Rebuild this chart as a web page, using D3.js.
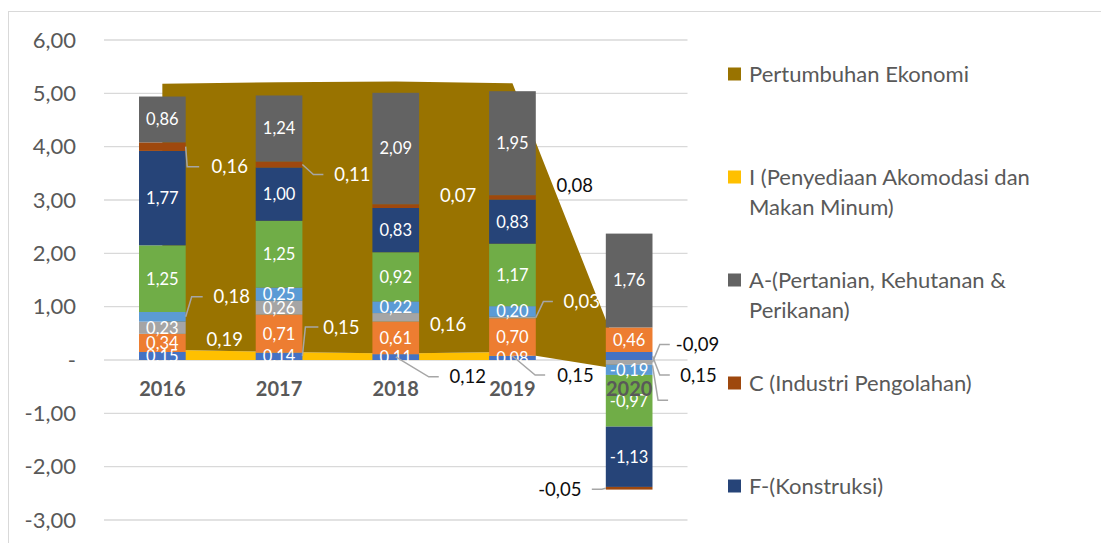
<!DOCTYPE html>
<html lang="id">
<head>
<meta charset="UTF-8">
<title>Kontribusi Sektor terhadap Pertumbuhan Ekonomi</title>
<script src="https://d3js.org/d3.v7.min.js"></script>
<style>
  body { margin: 0; background: #fff; }
  svg { display: block; font-family: Lato, "Open Sans", sans-serif; }
</style>
</head>
<body>
<svg id="chart" width="1101" height="543"></svg>
<script>
  // --- data ---
  const years = ["2016", "2017", "2018", "2019", "2020"];

  // area series (stacked: I first, Pertumbuhan Ekonomi on top of it)
  const sektorI  = [0.19, 0.15, 0.12, 0.15, -0.20];
  const ekonomi  = [4.99, 5.06, 5.10, 5.04, -0.15];

  // column series, bottom to top
  const sBiru     = [0.15, 0.14, 0.11, 0.08, 0.15];
  const sOranye   = [0.34, 0.71, 0.61, 0.70, 0.46];
  const sAbu      = [0.23, 0.26, 0.16, 0.03, -0.09];
  const sBiruMuda = [0.18, 0.25, 0.22, 0.20, -0.19];
  const sHijau    = [1.25, 1.25, 0.92, 1.17, -0.97];
  const sektorF   = [1.77, 1.00, 0.83, 0.83, -1.13];
  const sektorC   = [0.16, 0.11, 0.07, 0.08, -0.05];
  const sektorA   = [0.86, 1.24, 2.09, 1.95, 1.76];

  const yTicks = [-3, -2, -1, 0, 1, 2, 3, 4, 5, 6];

  const barSeries = [
    { key: "biru",     values: sBiru,     color: "#4472C4" },
    { key: "oranye",   values: sOranye,   color: "#ED7D31" },
    { key: "abu",      values: sAbu,      color: "#A5A5A5" },
    { key: "biruMuda", values: sBiruMuda, color: "#5B9BD5" },
    { key: "hijau",    values: sHijau,    color: "#70AD47" },
    { key: "F",        values: sektorF,   color: "#264478" },
    { key: "C",        values: sektorC,   color: "#9E480E" },
    { key: "A",        values: sektorA,   color: "#636363" }
  ];

  const legendItems = [
    { lines: ["Pertumbuhan Ekonomi"], color: "#997300" },
    { lines: ["I (Penyediaan Akomodasi dan", "Makan Minum)"], color: "#FFC000" },
    { lines: ["A-(Pertanian, Kehutanan &", "Perikanan)"], color: "#636363" },
    { lines: ["C (Industri Pengolahan)"], color: "#9E480E" },
    { lines: ["F-(Konstruksi)"], color: "#264478" }
  ];

  // labels that were moved out of their segment (layout only)
  const callouts = [
    { key: "C",        i: 0, side: "right", dx: 44,  dy: 20,  ex: 1.5, len: 12, color: "#fff" },
    { key: "biruMuda", i: 0, side: "right", dx: 46,  dy: -20, ex: 6,   len: 11, color: "#fff" },
    { key: "I",        i: 0, side: "right", dx: 39,  dy: -16, color: "#fff" },
    { key: "C",        i: 1, side: "right", dx: 50,  dy: 10,  ex: 11,  len: 10, color: "#fff" },
    { key: "I",        i: 1, side: "right", dx: 39,  dy: -29, ex: 3,   len: 13, color: "#fff" },
    { key: "abu",      i: 2, side: "right", dx: 29,  dy: 7,   color: "#fff" },
    { key: "C",        i: 2, side: "right", dx: 39,  dy: -11, color: "#fff" },
    { key: "I",        i: 2, side: "mid",   dx: 72,  dy: 20,  ex: 33,  len: 10, color: "#0d0d0d" },
    { key: "abu",      i: 3, side: "right", dx: 46,  dy: -16, ex: 7.6, len: 9.5, color: "#fff" },
    { key: "C",        i: 3, side: "right", dx: 39,  dy: -12, color: "#0d0d0d" },
    { key: "I",        i: 3, side: "mid",   dx: 63,  dy: 19,  ex: 22.7, len: 10, color: "#0d0d0d" },
    { key: "abu",      i: 4, side: "right", dx: 45,  dy: -18, ex: 7.3, len: 10, color: "#0d0d0d" },
    { key: "biru",     i: 4, side: "right", dx: 46,  dy: 19,  ex: 7.3, len: 10, color: "#0d0d0d" },
    { key: "I",        i: 4, side: "right", dx: 40,  dy: 35,  ex: 5.6, len: 10, color: "#0d0d0d", hideText: true },
    { key: "C",        i: 4, side: "left",  dx: -46, dy: 1,   ex: -4,  len: -10, color: "#0d0d0d" }
  ];

  // --- scales ---
  const svg = d3.select("#chart");
  const x = d3.scaleBand().domain(years).range([104, 687.5]).paddingInner(0.6).paddingOuter(0.3);
  const y = d3.scaleLinear().domain([-3, 6]).range([520, 40]);
  const bw = x.bandwidth();
  const locale = d3.formatLocale({ decimal: ",", thousands: ".", grouping: [3], currency: ["Rp", ""], minus: "-" });
  const fmt = locale.format(".2f");

  // chart border
  svg.append("rect")
    .attr("x", 8.5).attr("y", 11.5)
    .attr("width", 1200).attr("height", 600)
    .attr("fill", "none").attr("stroke", "#d9d9d9");

  // gridlines
  svg.append("g").selectAll("line").data(yTicks).join("line")
    .attr("x1", 104).attr("x2", 687.5)
    .attr("y1", d => y(d)).attr("y2", d => y(d))
    .attr("stroke", "#d9d9d9").attr("stroke-width", 1.3);

  // y axis labels
  const yAxis = svg.append("g")
    .attr("transform", "translate(104,0)")
    .call(d3.axisLeft(y).tickValues(yTicks).tickSize(0).tickPadding(28)
      .tickFormat(d => d === 0 ? "-" : fmt(d)));
  yAxis.select(".domain").remove();
  yAxis.selectAll("text")
    .attr("font-family", "Lato, sans-serif")
    .attr("font-size", 22).attr("fill", "#595959");

  // areas
  const areaRows = years.map((yr, i) => ({ yr, i: sektorI[i], e: ekonomi[i] }));
  const cx = d => x(d.yr) + bw / 2;

  svg.append("path").datum(areaRows)
    .attr("fill", "#FFC000")
    .attr("d", d3.area().defined(d => d.i >= 0).x(cx).y0(y(0)).y1(d => y(d.i)));

  svg.append("path").datum(areaRows)
    .attr("fill", "#997300")
    .attr("d", d3.area().x(cx).y0(d => y(d.i)).y1(d => y(d.i + d.e)));

  // stacked columns
  const table = years.map((yr, i) => {
    const row = { year: yr };
    barSeries.forEach(s => row[s.key] = s.values[i]);
    return row;
  });
  const stacked = d3.stack()
    .keys(barSeries.map(s => s.key))
    .offset(d3.stackOffsetDiverging)(table);

  const colorOf = Object.fromEntries(barSeries.map(s => [s.key, s.color]));

  svg.append("g").selectAll("g").data(stacked).join("g")
    .attr("fill", s => colorOf[s.key])
    .selectAll("rect").data(s => s).join("rect")
    .attr("x", d => x(d.data.year))
    .attr("width", bw)
    .attr("y", d => y(Math.max(d[0], d[1])))
    .attr("height", d => Math.abs(y(d[0]) - y(d[1])));

  // labels inside segments
  const moved = new Set(callouts.map(c => c.key + "|" + c.i));
  const inside = [];
  stacked.forEach(s => s.forEach((d, i) => {
    if (moved.has(s.key + "|" + i)) return;
    inside.push({ x: x(d.data.year) + bw / 2, y: y((d[0] + d[1]) / 2), v: d.data[s.key] });
  }));

  svg.append("g").selectAll("text").data(inside).join("text")
    .attr("x", d => d.x).attr("y", d => d.y).attr("dy", "0.36em")
    .attr("text-anchor", "middle")
    .attr("font-size", 16.5).attr("fill", "#fff")
    .text(d => fmt(d.v));

  // moved labels with leader lines
  function segment(key, i) {
    if (key === "I") return [0, sektorI[i]];
    const d = stacked.find(s => s.key === key)[i];
    return [d[0], d[1]];
  }
  function valueOf(key, i) {
    if (key === "I") return sektorI[i];
    return barSeries.find(s => s.key === key).values[i];
  }

  const cg = svg.append("g");
  callouts.forEach(c => {
    const seg = segment(c.key, c.i);
    const x0 = x(years[c.i]);
    const ax = c.side === "right" ? x0 + bw : c.side === "left" ? x0 : x0 + bw / 2;
    const ay = y((seg[0] + seg[1]) / 2);
    const lx = ax + c.dx, ly = ay + c.dy;
    if (c.ex !== undefined) {
      const ex = ax + c.ex;
      cg.append("path")
        .attr("d", d3.line()([[ax, ay], [ex, ly], [ex + c.len, ly]]))
        .attr("fill", "none").attr("stroke", "#a6a6a6").attr("stroke-width", 1.5);
    }
    if (!c.hideText) {
      cg.append("text")
        .attr("x", lx).attr("y", ly).attr("dy", "0.36em")
        .attr("text-anchor", "middle")
        .attr("font-size", 18.5).attr("fill", c.color)
        .text(fmt(valueOf(c.key, c.i)));
    }
  });

  // category labels
  svg.append("g").selectAll("text").data(years).join("text")
    .attr("x", d => x(d) + bw / 2).attr("y", 389).attr("dy", "0.36em")
    .attr("text-anchor", "middle")
    .attr("font-size", 20).attr("font-weight", "bold").attr("fill", "#595959")
    .text(d => d);

  // legend
  const lg = svg.append("g").selectAll("g").data(legendItems).join("g")
    .attr("transform", (d, k) => `translate(728,${74 + k * 103})`);
  lg.append("rect")
    .attr("x", 0).attr("y", -6.5).attr("width", 13).attr("height", 13)
    .attr("fill", d => d.color);
  lg.each(function(d) {
    d3.select(this).selectAll("text").data(d.lines).join("text")
      .attr("x", 21).attr("y", (t, j) => j * 30).attr("dy", "0.36em")
      .attr("font-size", 22).attr("fill", "#595959")
      .text(t => t);
  });
</script>
</body>
</html>
